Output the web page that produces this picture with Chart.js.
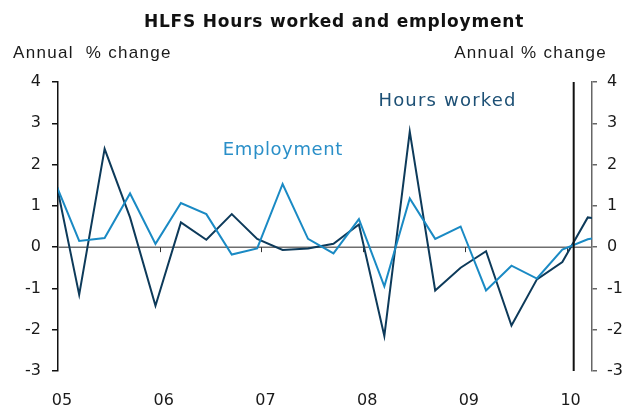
<!DOCTYPE html>
<html>
<head>
<meta charset="utf-8">
<script src="https://cdn.jsdelivr.net/npm/chart.js@4.4.1/dist/chart.umd.min.js"></script>
<style>
  html, body { margin: 0; padding: 0; background: #fff; }
  #wrap { width: 630px; height: 410px; }
</style>
</head>
<body>
<div id="wrap"><canvas id="chart" width="630" height="410"></canvas></div>
<script>
// quarterly data, annual % change
const quarters = ['2004Q4',
  '2005Q1', '2005Q2', '2005Q3', '2005Q4',
  '2006Q1', '2006Q2', '2006Q3', '2006Q4',
  '2007Q1', '2007Q2', '2007Q3', '2007Q4',
  '2008Q1', '2008Q2', '2008Q3', '2008Q4',
  '2009Q1', '2009Q2', '2009Q3', '2009Q4',
  '2010Q1', '2010Q2'];
const hoursWorked = [1.85,
  -1.15, 2.38, 0.72, -1.42,
  0.6, 0.18, 0.8, 0.2,
  -0.07, -0.03, 0.08, 0.55,
  -2.15, 2.8, -1.05, -0.5,
  -0.1, -1.9, -0.78, -0.36,
  0.72, 0.64];
const employment = [1.65,
  0.15, 0.22, 1.3, 0.08,
  1.07, 0.8, -0.18, -0.03,
  1.53, 0.2, -0.15, 0.68,
  -0.95, 1.18, 0.2, 0.5,
  -1.05, -0.45, -0.76, -0.06,
  0.19, 0.3];
const yearTicks = [2005, 2006, 2007, 2008, 2009, 2010];
const yearLabels = ['05', '06', '07', '08', '09', '10'];
const yTicks = [-3, -2, -1, 0, 1, 2, 3, 4];
const markerYear = 2010.07;

const darkBlue = '#0d3a5a';
const lightBlue = '#1a8ac4';

// plot each quarter mid-way through its last month
function quarterX(q) {
  const yr = parseInt(q.slice(0, 4));
  const n = parseInt(q.slice(5));
  return yr + (n * 3 - 0.5) / 12;
}

const overlay = {
  id: 'overlay',
  beforeDatasetsDraw(chart) {
    const { ctx, chartArea: a, scales: { x, y } } = chart;
    const y0 = y.getPixelForValue(0);
    ctx.save();
    ctx.strokeStyle = '#6e6e6e';
    ctx.lineWidth = 1.5;
    ctx.beginPath();
    ctx.moveTo(a.left, y0);
    ctx.lineTo(a.right, y0);
    ctx.stroke();
    ctx.lineWidth = 1;
    ctx.strokeStyle = '#333';
    yearTicks.slice(1).forEach(v => {
      const px = Math.round(x.getPixelForValue(v)) + 0.5;
      ctx.beginPath();
      ctx.moveTo(px, y0);
      ctx.lineTo(px, y0 + 5);
      ctx.stroke();
    });
    ctx.restore();
  },
  afterDatasetsDraw(chart) {
    const { ctx, chartArea: a, scales: { x } } = chart;
    const px = x.getPixelForValue(markerYear);
    ctx.save();
    ctx.strokeStyle = '#111';
    ctx.lineWidth = 2;
    ctx.beginPath();
    ctx.moveTo(px, a.top);
    ctx.lineTo(px, a.bottom);
    ctx.stroke();
    ctx.restore();
  },
  afterDraw(chart) {
    const { ctx, scales: { x, y } } = chart;
    ctx.save();
    ctx.fillStyle = '#111';
    ctx.textBaseline = 'alphabetic';
    ctx.font = 'bold 17px "DejaVu Sans"';
    ctx.letterSpacing = '0.8px';
    ctx.textAlign = 'center';
    ctx.fillText('HLFS Hours worked and employment', 334, 26.5);

    ctx.font = '17px "Liberation Sans"';
    ctx.letterSpacing = '1.3px';
    ctx.fillStyle = '#1a1a1a';
    ctx.textAlign = 'left';
    ctx.fillText('Annual  % change', 13, 57.5);
    ctx.textAlign = 'right';
    ctx.fillText('Annual % change', 607, 57.5);

    ctx.font = '18px "DejaVu Sans"';
    ctx.textAlign = 'left';
    ctx.letterSpacing = '1.2px';
    ctx.fillStyle = '#1d5075';
    ctx.fillText('Hours worked', x.getPixelForValue(2008.15), y.getPixelForValue(3.41));
    ctx.letterSpacing = '0.6px';
    ctx.fillStyle = '#2a8fc8';
    ctx.fillText('Employment', x.getPixelForValue(2006.62), y.getPixelForValue(2.23));
    ctx.restore();
  }
};

const tickFont = { family: 'DejaVu Sans', size: 16 };

new Chart(document.getElementById('chart'), {
  type: 'line',
  data: {
    datasets: [
      {
        label: 'Hours worked',
        data: quarters.map((q, i) => ({ x: quarterX(q), y: hoursWorked[i] })),
        borderColor: darkBlue,
        borderWidth: 2,
        pointRadius: 0,
        tension: 0,
        order: 1
      },
      {
        label: 'Employment',
        data: quarters.map((q, i) => ({ x: quarterX(q), y: employment[i] })),
        borderColor: lightBlue,
        borderWidth: 2,
        pointRadius: 0,
        tension: 0,
        order: 0
      }
    ]
  },
  options: {
    responsive: false,
    animation: false,
    layout: { autoPadding: false, padding: { top: 82, left: 0, right: 0, bottom: 0 } },
    plugins: { legend: { display: false }, tooltip: { enabled: false } },
    scales: {
      x: {
        type: 'linear',
        min: 2005,
        max: 2010.25,
        afterBuildTicks: s => { s.ticks = yearTicks.map(v => ({ value: v })); },
        afterFit: s => { s.height = 39; },
        grid: { display: false },
        border: { display: false },
        ticks: {
          callback: v => yearLabels[yearTicks.indexOf(v)],
          font: tickFont,
          color: '#1a1a1a',
          padding: 12,
          labelOffset: 4,
          maxRotation: 0,
          autoSkip: false
        }
      },
      y: {
        position: 'left',
        min: -3,
        max: 4,
        afterBuildTicks: s => { s.ticks = yTicks.map(v => ({ value: v })); },
        afterFit: s => { s.width = 58; },
        grid: { drawOnChartArea: false, tickLength: 6, color: '#111', lineWidth: 1.5 },
        border: { color: '#111', width: 1.5 },
        ticks: { font: tickFont, color: '#1a1a1a', padding: 11 }
      },
      y2: {
        position: 'right',
        min: -3,
        max: 4,
        afterBuildTicks: s => { s.ticks = yTicks.map(v => ({ value: v })); },
        afterFit: s => { s.width = 38; },
        grid: { drawOnChartArea: false, tickLength: 5, color: '#666', lineWidth: 1.5 },
        border: { color: '#666', width: 1.5 },
        ticks: { font: tickFont, color: '#1a1a1a', padding: 10 }
      }
    }
  },
  plugins: [overlay]
});
</script>
</body>
</html>
